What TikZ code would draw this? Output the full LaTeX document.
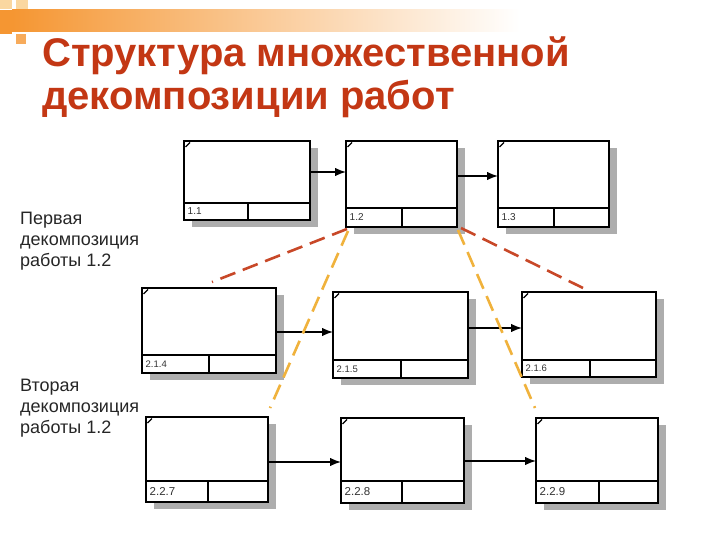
\documentclass[tikz,border=0pt]{standalone}
\usepackage{fontspec}
\setmainfont{Liberation Sans}
\usetikzlibrary{arrows.meta}
\definecolor{titlered}{RGB}{195,55,20}
\definecolor{redash}{RGB}{200,72,40}
\definecolor{yeldash}{RGB}{240,178,60}
\definecolor{decoorange}{RGB}{245,150,50}
\definecolor{decopale}{RGB}{250,215,160}
\tikzset{
  boxshadow/.style={fill=black!32},
  boxnode/.style={draw=black, line width=2.8pt, fill=white, inner sep=0pt, outer sep=0pt},
  boxline/.style={draw=black, line width=2.8pt},
  cornerline/.style={draw=black, line width=1.1pt},
  boxlabel/.style={anchor=west, inner sep=0pt, text=black!80},
  conn/.style={draw=black, line width=1.4pt, -{Latex[length=11pt,width=8.5pt]}},
  decomp/.style={line width=2.6pt, dash pattern=on 16pt off 8pt},
  titletext/.style={anchor=base west, inner sep=0pt, text=titlered, font=\bfseries\fontsize{40}{44}\selectfont},
  sidelabel/.style={anchor=north west, inner sep=0pt, align=left, font=\fontsize{18}{21}\selectfont, text=black!85}
}
\newcommand{\mkbox}[9]{%
  \fill[boxshadow] ({#2+8},{#3+7}) rectangle ({#4+8},{#5+7});
  \node[boxnode, minimum width={#4-#2}, minimum height={#5-#3}] (#1) at ({(#2+#4)/2},{(#3+#5)/2}) {};
  \draw[boxline] (#2,#6) -- (#4,#6) (#7,#6) -- (#7,#5);
  \draw[cornerline] ({#2+1.5},{#3+6}) -- ({#2+6},{#3+1.5});
  \node[boxlabel, font=#9] at ({#2+3.5},{(#6+#5)/2}) {#8};
}
\begin{document}
\begin{tikzpicture}[x=1pt,y=-1pt]
\fill[white] (0,0) rectangle (720,540);
\useasboundingbox (0,0) rectangle (720,540);
% decoration
\shade[left color=decoorange, right color=white] (12,10) rectangle (520,32);
\fill[decoorange] (0,10) rectangle (12,34);
\fill[decopale] (0,0) rectangle (12,9);
\fill[decopale] (16,0) rectangle (28,9);
\fill[decoorange!80] (16,34) rectangle (26,44);
% title
\node[titletext] (t1) at (42,67) {Структура множественной};
\node[titletext] (t2) at (42,110) {декомпозиции работ};
% side labels
\node[sidelabel] (lab1) at (20,212) {Первая\\декомпозиция\\работы 1.2};
\node[sidelabel] (lab2) at (20,379) {Вторая\\декомпозиция\\работы 1.2};
% boxes
\mkbox{b11}{184}{141}{310}{220}{203}{248}{1.1}{\fontsize{10}{12}\selectfont}
\mkbox{b12}{346}{141}{457}{227}{208}{402}{1.2}{\fontsize{10}{12}\selectfont}
\mkbox{b13}{498}{141}{609}{227}{208}{554}{1.3}{\fontsize{10}{12}\selectfont}
\mkbox{b214}{142}{288}{276}{373}{355}{209}{2.1.4}{\fontsize{9.5}{11}\selectfont}
\mkbox{b215}{333}{292}{468}{378}{360}{401}{2.1.5}{\fontsize{9.5}{11}\selectfont}
\mkbox{b216}{522}{292}{656}{377}{360}{590}{2.1.6}{\fontsize{9.5}{11}\selectfont}
\mkbox{b227}{146}{417}{268}{502}{481}{208}{2.2.7}{\fontsize{11.5}{13}\selectfont}
\mkbox{b228}{341}{418}{464}{503}{481}{402}{2.2.8}{\fontsize{11.5}{13}\selectfont}
\mkbox{b229}{536}{418}{658}{503}{481}{599}{2.2.9}{\fontsize{11.5}{13}\selectfont}
% connectors
\draw[conn] (b11.east |- 0,172) -- (b12.west |- 0,172);
\draw[conn] (b12.east |- 0,176) -- (b13.west |- 0,176);
\draw[conn] (b214.east |- 0,332) -- (b215.west |- 0,332);
\draw[conn] (b215.east |- 0,328) -- (b216.west |- 0,328);
\draw[conn] (b227.east |- 0,462) -- (b228.west |- 0,462);
\draw[conn] (b228.east |- 0,461) -- (b229.west |- 0,461);
% decomposition lines
\coordinate (rl) at (212,282);
\coordinate (yl) at (270,408);
\coordinate (rr) at (583,288);
\coordinate (yr) at (535,408);
\draw[decomp, redash] ([shift={(1,2)}]b12.south west) -- (rl);
\draw[decomp, yeldash] ([shift={(2,4)}]b12.south west) -- (yl);
\draw[decomp, redash] ([shift={(4,1)}]b12.south east) -- (rr);
\draw[decomp, yeldash] ([shift={(1,3)}]b12.south east) -- (yr);
\end{tikzpicture}
\end{document}
